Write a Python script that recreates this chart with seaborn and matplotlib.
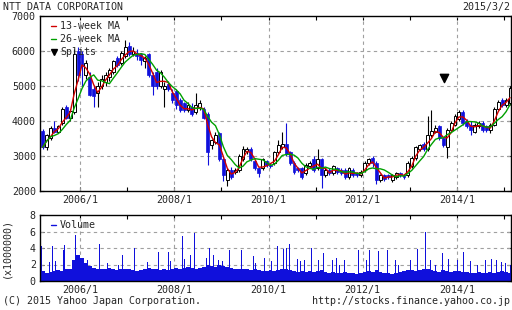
import numpy as np
import pandas as pd
import matplotlib
matplotlib.use("Agg")
import matplotlib.pyplot as plt
import seaborn as sns
from matplotlib.lines import Line2D

# ---------------- data (monthly candles, 2005/3 .. 2015/2) ----------------
months = pd.date_range("2005-03-01", periods=120, freq="MS")
opens = [3700, 3250, 3500, 3800, 3700, 3950, 4400, 4100, 4250, 6000,
         5900, 5300, 5250, 4900, 4800, 5000, 5100, 5250, 5400, 5800,
         5650, 5850, 6150, 5900, 5950, 5900, 5700, 5900, 5300, 5400,
         5000, 4900, 5050, 4800, 4850, 4600, 4500, 4300, 4400, 4250,
         4400, 4350, 4200, 3300, 3400, 3650, 2900, 2300, 2600, 2550,
         2600, 2900, 3150, 3200, 2850, 2650, 2650, 2850, 2750, 2800,
         3100, 3250, 3350, 3100, 2800, 2650, 2650, 2500, 2700, 2900,
         2650, 2900, 2450, 2600, 2500, 2650, 2600, 2600, 2400, 2600,
         2500, 2450, 2600, 2800, 2950, 2800, 2300, 2450, 2450, 2300,
         2400, 2500, 2450, 2450, 2700, 2950, 3200, 3350, 3200, 3600,
         3700, 3850, 3500, 3250, 3750, 3900, 4050, 4250, 4000, 3900,
         3700, 3850, 3950, 3850, 3750, 3900, 4350, 4600, 4450, 4500]
highs = [3780, 3620, 3850, 4000, 3900, 4400, 4450, 4350, 6050, 6100,
         6000, 5750, 5400, 5000, 5100, 5300, 5400, 5500, 5750, 5850,
         6000, 6300, 6250, 6100, 6050, 5950, 5850, 5950, 5400, 5500,
         5450, 5100, 5150, 4900, 4900, 4650, 4550, 4550, 4500, 4800,
         4600, 4400, 4250, 3500, 3700, 3700, 2950, 2650, 2700, 2650,
         3050, 3300, 3250, 3250, 2900, 2700, 2950, 2900, 2800, 3150,
         3450, 3700, 3950, 3150, 2850, 2700, 2700, 2800, 2850, 3000,
         3200, 2950, 2650, 2650, 2750, 2700, 2650, 2650, 2700, 2650,
         2550, 2600, 2850, 2950, 3000, 2850, 2500, 2500, 2500, 2500,
         2550, 2550, 2500, 2850, 3000, 3300, 3350, 3400, 4150, 4300,
         3900, 3900, 3550, 3800, 4000, 4200, 4300, 4300, 4050, 4000,
         3950, 4000, 4000, 3900, 3950, 4400, 4600, 4650, 4650, 5000]
lows = [3200, 3180, 3450, 3650, 3650, 3900, 4050, 4000, 4200, 5150,
        5000, 5200, 4700, 4400, 4400, 4900, 5000, 5150, 5350, 5550,
        5600, 5800, 5850, 5850, 5750, 5600, 5500, 5250, 4750, 4900,
        4950, 4400, 4850, 4500, 4350, 4250, 4250, 4250, 4150, 4200,
        4300, 4050, 2750, 3200, 3350, 2850, 2300, 2150, 2350, 2500,
        2550, 2850, 3050, 2850, 2600, 2400, 2600, 2700, 2650, 2750,
        3050, 3200, 3000, 2750, 2500, 2550, 2350, 2450, 2650, 2550,
        2600, 2100, 2400, 2450, 2450, 2500, 2450, 2350, 2350, 2400,
        2400, 2400, 2550, 2750, 2700, 2200, 2250, 2300, 2350, 2250,
        2350, 2400, 2350, 2400, 2650, 2900, 3150, 3150, 3150, 3550,
        3650, 3450, 3250, 2950, 3700, 3850, 4000, 3900, 3800, 3600,
        3650, 3800, 3700, 3700, 3650, 3850, 4300, 4400, 4400, 4450]
closes = [3250, 3600, 3800, 3700, 3850, 4350, 4100, 4300, 5900, 5300,
          5600, 5650, 4750, 4700, 5000, 5200, 5300, 5450, 5700, 5600,
          5950, 6100, 5900, 6000, 5850, 5750, 5800, 5300, 5000, 5000,
          5400, 5000, 4900, 4600, 4450, 4300, 4300, 4450, 4200, 4450,
          4500, 4100, 3100, 3450, 3600, 2900, 2450, 2600, 2400, 2600,
          3000, 3200, 3200, 2900, 2650, 2500, 2900, 2750, 2700, 3100,
          3300, 3350, 3050, 2800, 2550, 2600, 2400, 2750, 2800, 2600,
          2900, 2450, 2600, 2500, 2700, 2550, 2500, 2400, 2650, 2450,
          2450, 2550, 2800, 2900, 2800, 2300, 2450, 2350, 2400, 2450,
          2500, 2450, 2400, 2800, 2950, 3250, 3300, 3200, 3600, 3700,
          3800, 3500, 3300, 3750, 3950, 4150, 4250, 3950, 3850, 3750,
          3900, 3950, 3750, 3750, 3900, 4350, 4550, 4450, 4600, 4950]

# monthly base volume (millions of shares)
vol_base = [1.2, 1.0, 1.1, 1.2, 1.3, 1.2, 1.4, 1.5,
            2.5, 3.2, 2.8, 2.2, 1.8, 1.6,
            1.5, 1.4, 1.5, 1.6, 1.4, 1.3, 1.4, 1.5,
            1.4, 1.3, 1.2, 1.3, 1.4, 1.6, 1.5, 1.4, 1.3, 1.4, 1.3, 1.4,
            1.6, 1.5, 1.6, 1.7, 1.6, 1.5, 1.6, 1.7, 2.0, 1.8, 1.7, 1.9,
            1.8, 1.7, 1.6, 1.5, 1.4, 1.5, 1.4, 1.3, 1.4, 1.3, 1.2, 1.2,
            1.3, 1.2, 1.3, 1.4, 1.5, 1.3, 1.2, 1.1, 1.2, 1.1, 1.2, 1.1,
            1.2, 1.3, 1.1, 1.0, 1.1, 1.0, 1.0, 1.1, 1.0, 1.0, 0.9, 1.0,
            1.1, 1.2, 1.1, 1.3, 1.1, 1.0, 1.0, 0.9, 1.0, 1.1, 1.2, 1.3,
            1.3, 1.2, 1.3, 1.5, 1.4, 1.3, 1.2, 1.1, 1.3, 1.2, 1.1, 1.2,
            1.2, 1.1, 1.1, 1.0, 1.0, 1.1, 1.0, 1.0, 1.1, 1.0, 1.1, 1.2, 1.1, 1.0]
# weekly volume spikes (decimal year, millions)
spike_t = [2005.17, 2005.342, 2005.406, 2005.469, 2005.639, 2005.660, 2005.894,
           2006.149, 2006.403, 2006.573, 2006.806, 2006.891, 2007.146, 2007.422,
           2007.655, 2007.867, 2007.910, 2008.164, 2008.207, 2008.334, 2008.419,
           2008.674, 2008.737, 2008.822, 2008.928, 2009.013, 2009.162, 2009.416,
           2009.671, 2009.714, 2009.905, 2010.053, 2010.180, 2010.308, 2010.371,
           2010.435, 2010.605, 2010.668, 2010.753, 2010.902, 2011.050, 2011.157,
           2011.348, 2011.432, 2011.496, 2011.602, 2011.899, 2012.069, 2012.133,
           2012.324, 2012.515, 2012.684, 2012.748, 2013.003, 2013.151, 2013.321,
           2013.427, 2013.533, 2013.682, 2013.809, 2014.000, 2014.127, 2014.276,
           2014.424, 2014.594, 2014.721, 2014.828, 2014.934, 2015.019, 2015.125]
spike_v = [4.2, 2.3, 4.3, 2.4, 3.8, 4.4, 5.6,
           2.6, 4.5, 2.2, 2.0, 3.2, 4.0, 2.3,
           3.5, 3.5, 2.4, 5.4, 2.7, 3.1, 5.8,
           2.8, 4.0, 3.2, 2.5, 2.4, 3.8, 3.8,
           3.0, 2.2, 2.8, 2.4, 4.2, 3.9, 4.0,
           4.5, 2.7, 2.4, 2.5, 4.0, 2.6, 3.4,
           2.6, 2.8, 2.0, 2.6, 3.8, 2.6, 3.7,
           3.6, 3.8, 2.5, 2.0, 2.5, 3.9, 6.0,
           2.6, 2.0, 3.4, 2.7, 2.5, 3.5, 2.4,
           2.0, 2.6, 2.7, 2.6, 2.3, 2.2, 2.0]
split_t = [2013.72]
split_y = [5230]

year_ticks = [2006, 2008, 2010, 2012, 2014]
year_labels = ["2006/1", "2008/1", "2010/1", "2012/1", "2014/1"]

# ---------------- styling ----------------
sns.set_theme(style="white")
plt.rcParams["font.family"] = ["DejaVu Sans Mono"]
FS = 7.2
BLUE = "#1010dc"
RED = "#d00000"
GREEN = "#00a000"
GRID = "#a0a0a0"

W, H = 512, 310
fig = plt.figure(figsize=(W / 100, H / 100), dpi=100)
fig.patch.set_facecolor("white")

def fx(x):
    return x / W

def fy(y):
    return 1 - y / H

ax = fig.add_axes([fx(40), fy(191), (511 - 40) / W, (191 - 16) / H])
axv = fig.add_axes([fx(40), fy(281), (511 - 40) / W, (281 - 215) / H])

t = np.array([m.year + (m.month - 1) / 12 + 1 / 24 for m in months])
o = np.array(opens, float)
c = np.array(closes, float)
hi = np.array(highs, float)
lo = np.array(lows, float)
up = c >= o

df = pd.DataFrame({"t": t, "close": c})
df["ma13"] = df["close"].rolling(3, min_periods=1).mean()
df["ma26"] = df["close"].rolling(6, min_periods=1).mean()

# wicks
ax.vlines(t[up], lo[up], hi[up], color="black", lw=0.8, zorder=2)
ax.vlines(t[~up], lo[~up], hi[~up], color=BLUE, lw=0.8, zorder=2)
# bodies
bw = 0.062
ax.bar(t[up], c[up] - o[up], bottom=o[up], width=bw, color="white",
       edgecolor="black", linewidth=0.7, zorder=3)
ax.bar(t[~up], o[~up] - c[~up], bottom=c[~up], width=bw, color=BLUE,
       edgecolor=BLUE, linewidth=0.5, zorder=3)

sns.lineplot(data=df, x="t", y="ma13", color=RED, lw=1.0, ax=ax, zorder=4)
sns.lineplot(data=df, x="t", y="ma26", color=GREEN, lw=1.0, ax=ax, zorder=4)
ax.scatter(split_t, split_y, marker="v", s=36, color="black", zorder=5)

# volume
axv.bar(t, vol_base, width=1 / 12, color=BLUE, linewidth=0, zorder=2)
axv.vlines(spike_t, 0, spike_v, color=BLUE, lw=0.72, zorder=3,
           antialiased=False)

x0, x1 = 2005.151, 2015.146
for a in (ax, axv):
    a.set_xlim(x0, x1)
    a.set_xlabel("")
    a.set_ylabel("")
    a.set_facecolor("white")
    a.set_xticks(year_ticks)
    a.set_xticklabels(year_labels, fontsize=FS)
    a.set_xticks(list(range(2006, 2016)), minor=True)
    a.grid(False)
    for g in year_ticks:
        a.axvline(g, color=GRID, lw=0.8, ls=(0, (3, 3)), zorder=1)
    for s in a.spines.values():
        s.set_color("black")
        s.set_linewidth(1.0)
        s.set_visible(True)
        s.set_zorder(6)
    a.tick_params(axis="both", which="both", direction="in", length=3,
                  width=0.8, color="black", top=True, right=True,
                  bottom=True, left=True, labelsize=FS, pad=3)

ax.set_ylim(2000, 7000)
ax.set_yticks([2000, 3000, 4000, 5000, 6000, 7000])
for yv in [3000, 4000, 5000, 6000]:
    ax.axhline(yv, color=GRID, lw=0.8, ls=(0, (3, 3)), zorder=1)

axv.set_ylim(0, 8)
axv.set_yticks([0, 2, 4, 6, 8])
for yv in [2, 4, 6]:
    axv.axhline(yv, color=GRID, lw=0.8, ls=(0, (3, 3)), zorder=1)

# legends (manual, no frame)
def leg_line(x, y, color, label):
    fig.add_artist(Line2D([fx(x), fx(x + 5)], [fy(y), fy(y)], color=color,
                          lw=1.0, transform=fig.transFigure))
    fig.text(fx(x + 9), fy(y), label, fontsize=FS, va="center", ha="left")

leg_line(51, 26, RED, "13-week MA")
leg_line(51, 39, GREEN, "26-week MA")
fig.add_artist(Line2D([fx(54)], [fy(52)], marker="v", markersize=5,
                      color="black", transform=fig.transFigure))
fig.text(fx(60), fy(52), "Splits", fontsize=FS, va="center", ha="left")
leg_line(51, 225, BLUE, "Volume")

fig.text(fx(3), fy(7), "NTT DATA CORPORATION", fontsize=FS, va="center", ha="left")
fig.text(fx(510), fy(7), "2015/3/2", fontsize=FS, va="center", ha="right")
fig.text(fx(3), fy(301), "(C) 2015 Yahoo Japan Corporation.", fontsize=FS,
         va="center", ha="left")
fig.text(fx(510), fy(301), "http://stocks.finance.yahoo.co.jp", fontsize=FS,
         va="center", ha="right")
fig.text(fx(6), fy(248), "(x1000000)", fontsize=FS, va="center", ha="center",
         rotation=90)

fig.savefig("out.png", dpi=100, facecolor="white")
